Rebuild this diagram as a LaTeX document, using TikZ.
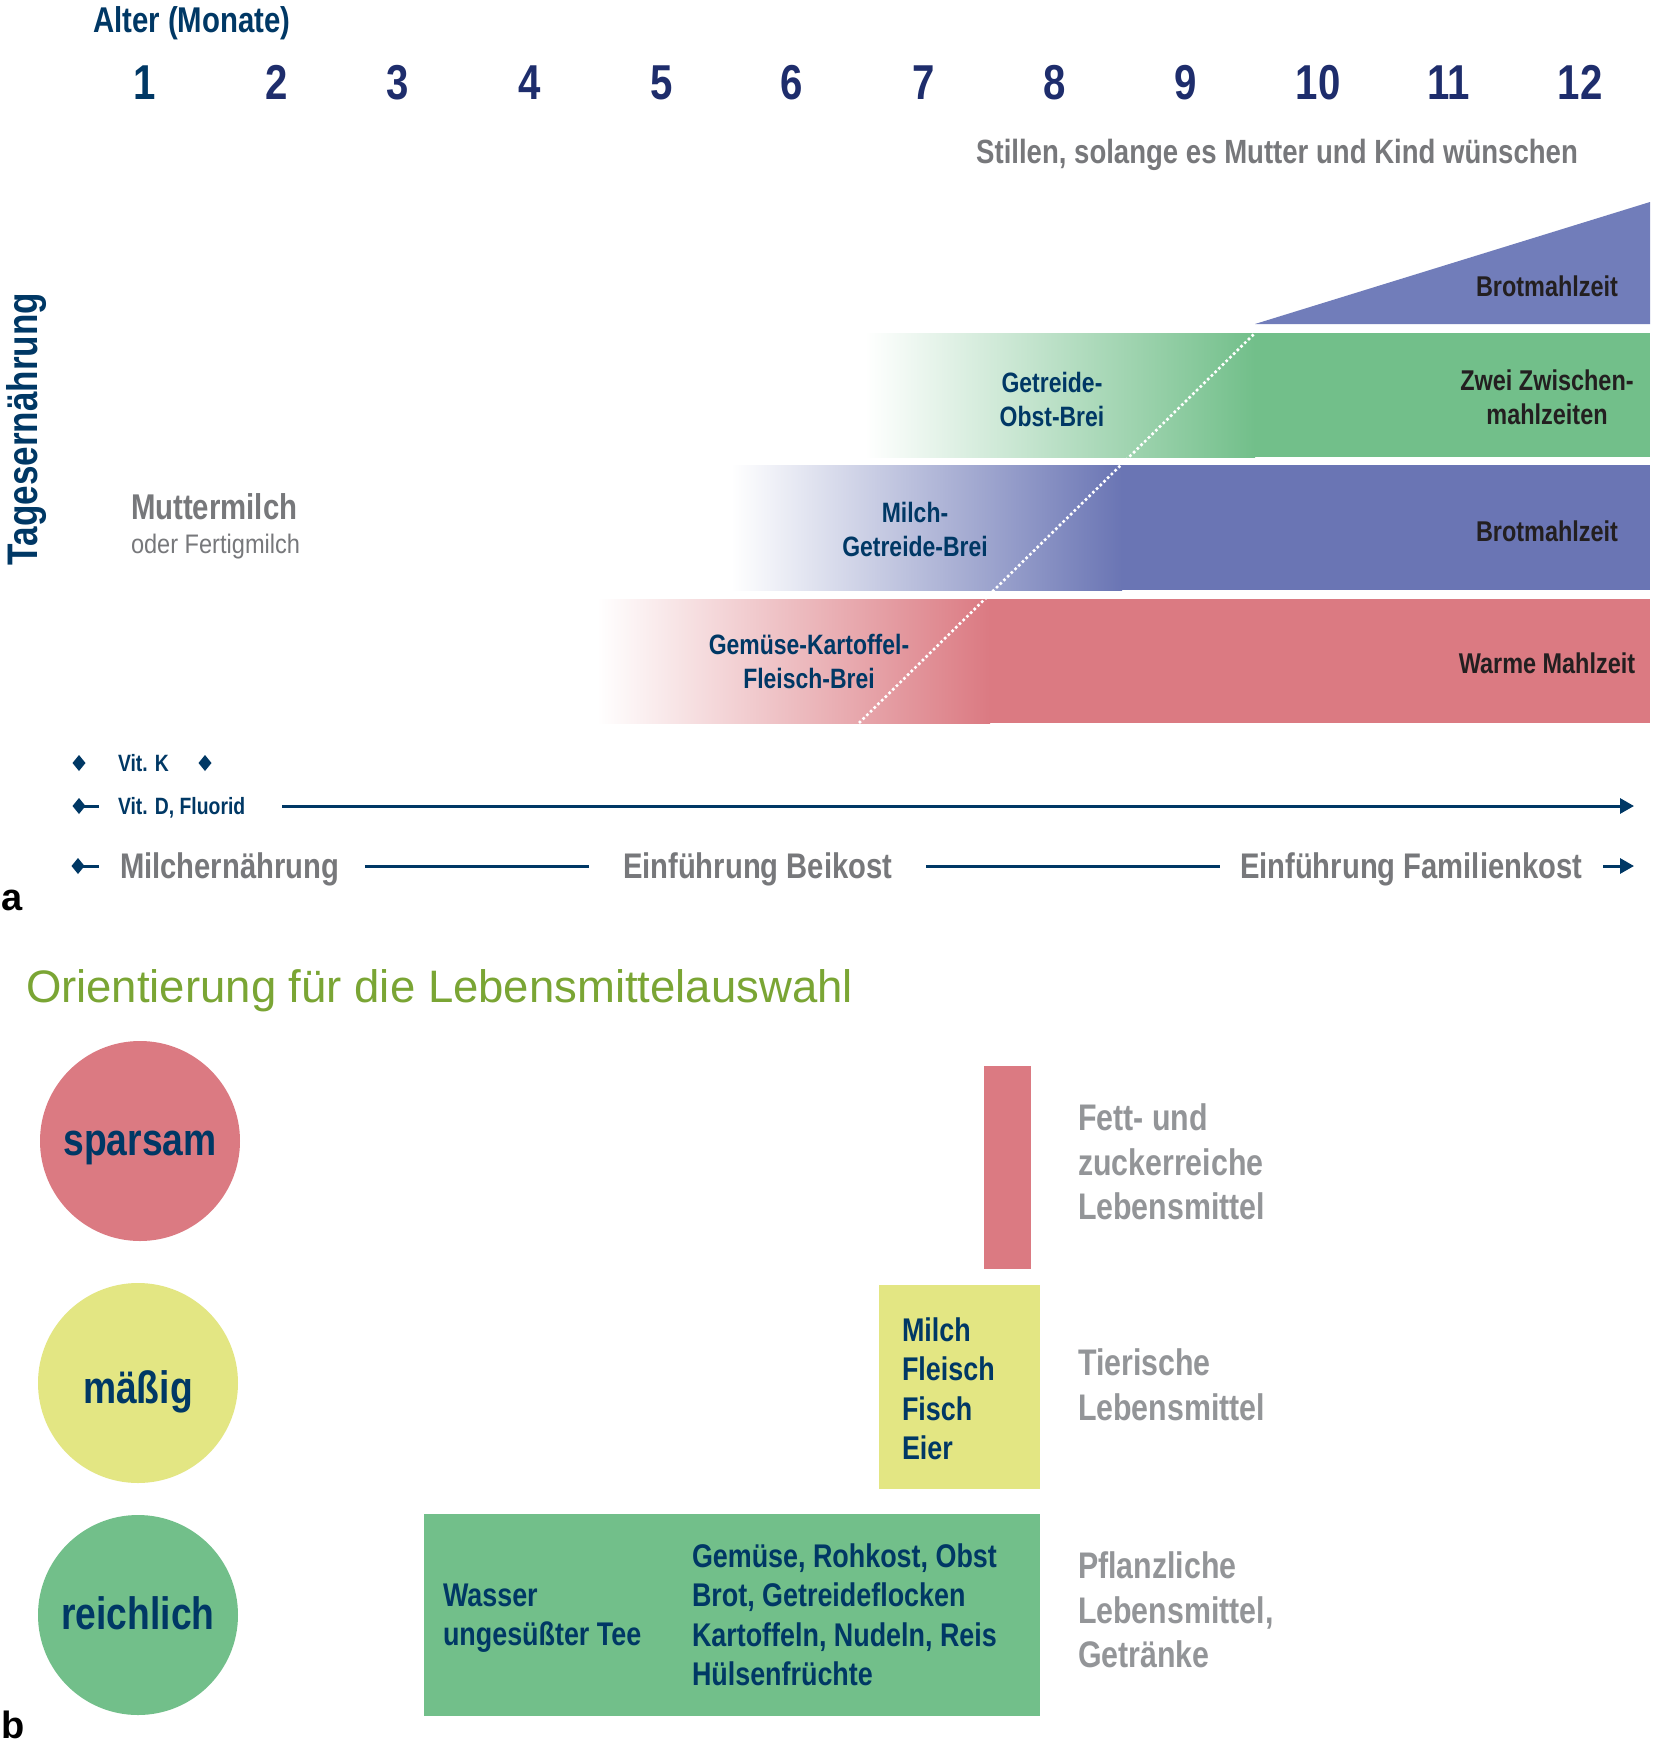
\documentclass[tikz,border=0pt]{standalone}
\usepackage{fontspec}
\setmainfont{Liberation Sans}
\newfontfamily\cf{Liberation Sans}[FakeStretch=0.82]
\newfontfamily\cfr{Liberation Sans}[FakeStretch=0.88]
\usetikzlibrary{arrows.meta,shapes.geometric}
\definecolor{navy}{RGB}{0,56,101}
\definecolor{indigo}{RGB}{30,45,108}
\definecolor{tblack}{RGB}{35,31,32}
\definecolor{grayA}{RGB}{119,120,123}
\definecolor{grayB}{RGB}{147,149,152}
\definecolor{redc}{RGB}{219,122,130}
\definecolor{purp}{RGB}{106,117,180}
\definecolor{purptri}{RGB}{113,125,186}
\definecolor{greenc}{RGB}{114,191,138}
\definecolor{yellowc}{RGB}{227,230,131}
\definecolor{olive}{RGB}{122,165,52}
\newcommand\fsz[2]{\fontsize{#1}{#2}\selectfont}
\tikzset{
  every node/.style={inner sep=0pt,outer sep=0pt},
  month/.style={anchor=base,font=\cf\bfseries\fsz{24.5pt}{26pt}},
  bandlbl/.style={anchor=north,align=center,font=\cf\bfseries\fsz{14pt}{17pt},text=navy},
  mealone/.style={anchor=base,font=\cf\bfseries\fsz{14.3pt}{17pt},text=tblack},
  meallbl/.style={anchor=north,align=center,font=\cf\bfseries\fsz{14.3pt}{17pt},text=tblack},
  vit/.style={anchor=west,text height=8.4pt,text depth=0pt,font=\cf\bfseries\fsz{11.8pt}{13pt},text=navy},
  phase/.style={anchor=west,text height=12.7pt,text depth=0pt,font=\cf\bfseries\fsz{17.8pt}{20pt},text=grayA},
  dmd/.style={diamond,fill=navy,minimum width=6.5pt,minimum height=8pt,inner sep=0pt},
  navyln/.style={draw=navy,line width=1.5pt},
  tip/.style={-{Triangle[length=7pt,width=7.5pt]}},
  blob/.style={circle,minimum size=100pt,inner sep=0pt},
  blobtxt/.style={anchor=base,font=\cf\bfseries\fsz{22.7pt}{24pt},text=navy},
  boxtxt/.style={anchor=north west,align=left,font=\cf\bfseries\fsz{16.4pt}{19.6pt},text=navy},
  grouptxt/.style={anchor=north west,align=left,font=\cf\bfseries\fsz{18.5pt}{22.25pt},text=grayB},
  panel/.style={anchor=base west,font=\bfseries\fsz{19pt}{20pt},text=black}
}
\begin{document}
\begin{tikzpicture}[x=0.5pt,y=-0.5pt]
\useasboundingbox[fill=white] (0,0) rectangle (1654,1750);

% ---------- part a: header ----------
\node[anchor=base west,font=\cf\bfseries\fsz{17.9pt}{20pt},text=navy] (alter) at (93,33) {Alter (Monate)};
\node[month,text=navy] (m1) at (145,100) {1};
\foreach \x/\n in {277/2,398/3,530/4,662/5,792/6,924/7,1055/8,1186/9,1318/10,1449/11,1580/12}
  \node[month,text=indigo] (m\n) at (\x,100) {\n};
\node[anchor=base,font=\cf\bfseries\fsz{16.8pt}{19pt},text=grayA] (stillen) at (1277,163) {Stillen, solange es Mutter und Kind wünschen};

% ---------- bands ----------
\fill[purptri] (1255,324) -- (1650,202) -- (1650,324) -- cycle;
\shade[left color=white,right color=greenc] (865,333) rectangle (1255,457);
\fill[greenc] (1254,333) rectangle (1650,457);
\shade[left color=white,right color=purp] (731,465) rectangle (1122,590);
\fill[purp] (1121,465) rectangle (1650,590);
\shade[left color=white,right color=redc] (597,599) rectangle (990,723);
\fill[redc] (989,599) rectangle (1650,723);
\coordinate (dotA) at (859,723);
\coordinate (dotB) at (1255,333);
\draw[white,line width=1.3pt,dash pattern=on 1.3pt off 1.3pt] (dotA) -- (dotB);

\node[mealone] (brot1) at (1547,296) {Brotmahlzeit};
\node[meallbl] (zwei) at (1547,370) {Zwei Zwischen-\\mahlzeiten};
\node[mealone] (brot2) at (1547,541) {Brotmahlzeit};
\node[mealone] (warm) at (1547,673) {Warme Mahlzeit};
\node[bandlbl] (gob) at (1052,372) {Getreide-\\Obst-Brei};
\node[bandlbl] (mgb) at (915,502) {Milch-\\Getreide-Brei};
\node[bandlbl] (gkf) at (809,634) {Gemüse-Kartoffel-\\Fleisch-Brei};

\node[rotate=90,anchor=base,font=\cf\bfseries\fsz{21.4pt}{24pt},text=navy] (tages) at (37,429) {Tagesernährung};
\node[anchor=base west,font=\cf\bfseries\fsz{17.9pt}{20pt},text=grayA] (mutter) at (131,519) {Muttermilch};
\node[anchor=base west,font=\cfr\fsz{13.4pt}{15pt},text=grayA] (fertig) at (131,553) {oder Fertigmilch};

% ---------- supplements / phases ----------
\node[dmd] (vk1) at (79,763) {};
\node[vit] (vitk) at (118,763) {Vit. K};
\node[dmd] (vk2) at (205,763) {};

\node[dmd] (vd) at (79,806) {};
\coordinate (vdend) at (99,806);
\draw[navyln] (vd.center) -- (vdend);
\node[vit] (vitd) at (118,806) {Vit. D, Fluorid};
\coordinate (vdarr) at (1634,806);
\draw[navyln,tip,shorten <=18.5pt] (vitd.east) -- (vdarr);

\node[dmd] (ph) at (78,866) {};
\coordinate (phend) at (99,866);
\draw[navyln] (ph.center) -- (phend);
\node[phase] (milch) at (120,866) {Milchernährung};
\node[phase] (beikost) at (623,866) {Einführung Beikost};
\node[phase] (famkost) at (1240,866) {Einführung Familienkost};
\draw[navyln,shorten <=13pt,shorten >=17pt] (milch.east) -- (beikost.west);
\draw[navyln,shorten <=17pt,shorten >=10pt] (beikost.east) -- (famkost.west);
\coordinate (pharr) at (1634,866);
\draw[navyln,tip,shorten <=10.5pt] (famkost.east) -- (pharr);

\node[panel] (pa) at (2,910) {a};

% ---------- part b ----------
\node[anchor=base west,font=\fsz{22.75pt}{24pt},text=olive] (orient) at (26,1002) {Orientierung für die Lebensmittelauswahl};

\node[blob,fill=redc] (csp) at (140,1141) {};
\node[blobtxt] (tsp) at (140,1155) {sparsam};
\node[blob,fill=yellowc] (cma) at (138,1383) {};
\node[blobtxt] (tma) at (138,1403) {mäßig};
\node[blob,fill=greenc] (cre) at (138,1615) {};
\node[blobtxt] (tre) at (138,1629) {reichlich};

\fill[redc] (984,1066) rectangle (1031,1269);
\fill[yellowc] (879,1285) rectangle (1040,1489);
\fill[greenc] (424,1514) rectangle (1040,1716);

\node[boxtxt] (tier) at (902,1318) {Milch\\Fleisch\\Fisch\\Eier};
\node[boxtxt] (wasser) at (443,1584) {Wasser\\ungesüßter Tee};
\node[boxtxt] (pflanz) at (692,1544) {Gemüse, Rohkost, Obst\\Brot, Getreideflocken\\Kartoffeln, Nudeln, Reis\\Hülsenfrüchte};

\node[grouptxt] (gfett) at (1078,1104) {Fett- und\\zuckerreiche\\Lebensmittel};
\node[grouptxt] (gtier) at (1078,1349) {Tierische\\Lebensmittel};
\node[grouptxt] (gpfl) at (1078,1552) {Pflanzliche\\Lebensmittel,\\Getränke};

\node[panel] (pb) at (2,1738) {b};
\end{tikzpicture}
\end{document}
